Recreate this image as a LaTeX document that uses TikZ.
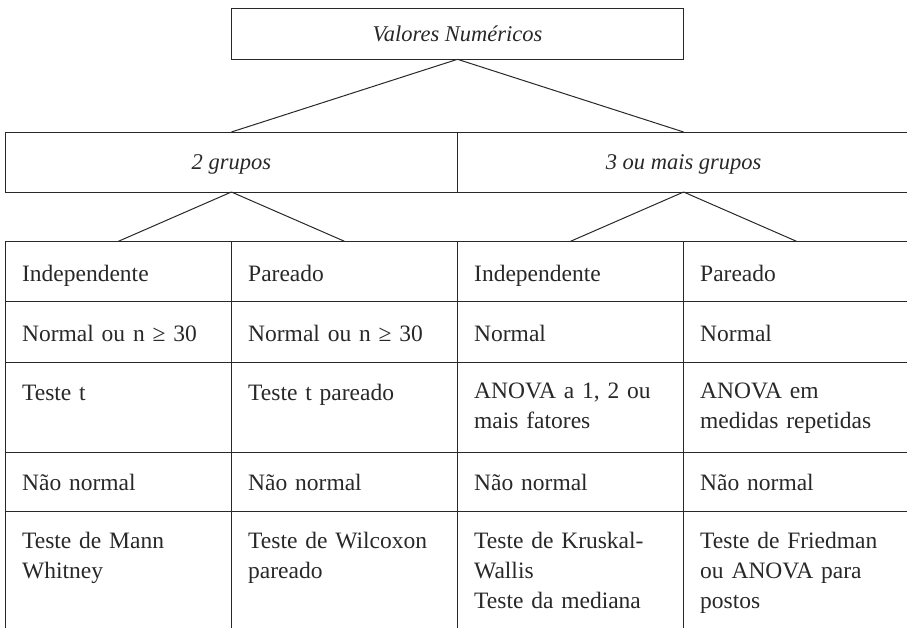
\documentclass[tikz,border=0pt]{standalone}
\usepackage{fontspec}
\setmainfont{Liberation Serif}
\definecolor{ink}{RGB}{40,40,40}
\begin{document}
\begin{tikzpicture}[x=1pt,y=-1pt,
  box/.style={draw=ink,line width=1pt,inner sep=0pt,outer sep=0pt,rectangle},
  titlebox/.style={box,font=\fontsize{22.5}{27}\selectfont\itshape,text=ink,text height=15pt,text depth=0pt},
  cell/.style={box,minimum width=226pt,minimum height=#1},
  celltext/.style={anchor=base west,inner sep=0pt,text width=205pt,align=left,font=\fontsize{23.5}{30}\selectfont,text=ink},
  link/.style={draw=ink,line width=1pt}]
\clip (0,0) rectangle (907,627);
% top levels
\node[titlebox,minimum width=451.6pt,minimum height=50.6pt] (top) at (457.5,34) {Valores Numéricos};
\node[titlebox,minimum width=452.2pt,minimum height=60pt] (g2) at (231.4,162) {2 grupos};
\node[titlebox,minimum width=452.2pt,minimum height=60pt] (g3) at (683.6,162) {3 ou mais grupos};
% table cells
\foreach \c/\xc in {1/118.4,2/344.5,3/570.5,4/796.5}{
  \foreach \r/\yc/\h in {1/271.4/60.2,2/331.75/60.5,3/407.25/90.5,4/482/59,5/581.5/140}{
    \node[cell=\h pt] (c\r\c) at (\xc,\yc) {};
  }}
% connectors
\draw[link] (top.south) -- (g2.north);
\draw[link] (top.south) -- (g3.north);
\draw[link] (g2.south) -- (c11.north);
\draw[link] (g2.south) -- (c12.north);
\draw[link] (g3.south) -- (c13.north);
\draw[link] (g3.south) -- (c14.north);
% cell texts
\node[celltext] (t11) at ([xshift=16.5pt,yshift=-40pt]c11.north west) {Independente};
\node[celltext] (t12) at ([xshift=16.5pt,yshift=-40pt]c12.north west) {Pareado};
\node[celltext] (t13) at ([xshift=16.5pt,yshift=-40pt]c13.north west) {Independente};
\node[celltext] (t14) at ([xshift=16.5pt,yshift=-40pt]c14.north west) {Pareado};
\node[celltext] (t21) at ([xshift=16.5pt,yshift=-40pt]c21.north west) {Normal ou n ≥ 30};
\node[celltext] (t22) at ([xshift=16.5pt,yshift=-40pt]c22.north west) {Normal ou n ≥ 30};
\node[celltext] (t23) at ([xshift=16.5pt,yshift=-40pt]c23.north west) {Normal};
\node[celltext] (t24) at ([xshift=16.5pt,yshift=-40pt]c24.north west) {Normal};
\node[celltext] (t31) at ([xshift=16.5pt,yshift=-38pt]c31.north west) {Teste t};
\node[celltext] (t32) at ([xshift=16.5pt,yshift=-38pt]c32.north west) {Teste t pareado};
\node[celltext] (t33) at ([xshift=16.5pt,yshift=-36pt]c33.north west) {ANOVA a 1, 2 ou\\mais fatores};
\node[celltext] (t34) at ([xshift=16.5pt,yshift=-36pt]c34.north west) {ANOVA em\\medidas repetidas};
\node[celltext] (t41) at ([xshift=16.5pt,yshift=-38pt]c41.north west) {Não normal};
\node[celltext] (t42) at ([xshift=16.5pt,yshift=-38pt]c42.north west) {Não normal};
\node[celltext] (t43) at ([xshift=16.5pt,yshift=-38pt]c43.north west) {Não normal};
\node[celltext] (t44) at ([xshift=16.5pt,yshift=-38pt]c44.north west) {Não normal};
\node[celltext] (t51) at ([xshift=16.5pt,yshift=-37pt]c51.north west) {Teste de Mann\\Whitney};
\node[celltext] (t52) at ([xshift=16.5pt,yshift=-37pt]c52.north west) {Teste de Wilcoxon\\pareado};
\node[celltext] (t53) at ([xshift=16.5pt,yshift=-37pt]c53.north west) {Teste de Kruskal-\\Wallis\\Teste da mediana};
\node[celltext] (t54) at ([xshift=16.5pt,yshift=-37pt]c54.north west) {Teste de Friedman\\ou ANOVA para\\postos};
\end{tikzpicture}
\end{document}
